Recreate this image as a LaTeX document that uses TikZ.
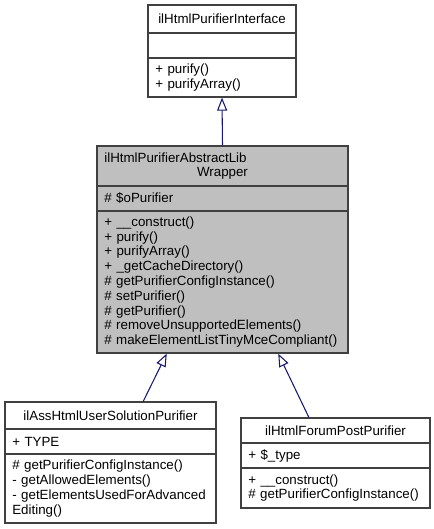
\documentclass[tikz,border=0pt]{standalone}
\usepackage{fontspec}
\setmainfont{Liberation Sans}
\usetikzlibrary{arrows.meta,calc}
\definecolor{edgeblue}{HTML}{191970}
\definecolor{boxgray}{HTML}{BFBFBF}
\definecolor{linegray}{HTML}{404040}
\begin{document}
\begin{tikzpicture}[x=0.75pt,y=-0.75pt,
    part/.style={draw=linegray, line width=0.9pt, rectangle, inner xsep=5.5pt, inner ysep=0pt,
      align=left, font=\fontsize{10}{11.1}\selectfont},
    title/.style={part, align=center},
    inherit/.style={-{Triangle[open, length=9.75pt, width=7.5pt]}, color=edgeblue, line width=0.8pt}]
    \useasboundingbox (0,0) rectangle (434,529);

    % interface
    \node[title, text width=100pt, minimum height=21pt] at (222,19) (iface) {ilHtmlPurifierInterface};
    \node[part, text width=100pt, minimum height=18.75pt] at (222,45.5) (ifaceattr) {};
    \node[part, text width=100pt, minimum height=29.25pt] at (222,77.5) (ifaceops) {+ purify()\\+ purifyArray()};

    % abstract wrapper
    \node[part, fill=boxgray, text width=177.25pt, minimum height=30pt] at (222.5,166) (wrap)
      {ilHtmlPurifierAbstractLib\\\makebox[\hsize]{Wrapper}};
    \node[part, fill=boxgray, text width=177.25pt, minimum height=18.75pt] at (222.5,198.5) (wrapattr) {\# \$oPurifier};
    \node[part, fill=boxgray, text width=177.25pt, minimum height=106.5pt] at (222.5,282) (wrapops)
      {+ \_\_construct()\\+ purify()\\+ purifyArray()\\+ \_getCacheDirectory()\\\# getPurifierConfigInstance()\\\# setPurifier()\\\# getPurifier()\\\# removeUnsupportedElements()\\\# makeElementListTinyMceCompliant()};

    % assessment purifier
    \node[title, text width=147.25pt, minimum height=20.25pt] at (110.5,415.5) (ass) {ilAssHtmlUserSolutionPurifier};
    \node[part, text width=147.25pt, minimum height=18.75pt] at (110.5,441.5) (assattr) {+ TYPE};
    \node[part, text width=147.25pt, minimum height=51.75pt] at (110.5,488.5) (assops)
      {\# getPurifierConfigInstance()\\- getAllowedElements()\\- getElementsUsedForAdvanced\\Editing()};

    % forum post purifier
    \node[title, text width=130.75pt, minimum height=18.75pt] at (335.5,430.5) (forum) {ilHtmlForumPostPurifier};
    \node[part, text width=130.75pt, minimum height=18.75pt] at (335.5,455.5) (forumattr) {+ \$\_type};
    \node[part, text width=130.75pt, minimum height=30pt] at (335.5,488) (forumops)
      {+ \_\_construct()\\\# getPurifierConfigInstance()};

    \draw[inherit] (wrap.north) to (ifaceops.south);
    \draw[inherit] ($(ass.north west)!0.654!(ass.north east)$) to ($(wrapops.south west)!0.279!(wrapops.south east)$);
    \draw[inherit] ($(forum.north west)!0.360!(forum.north east)$) to ($(wrapops.south west)!0.721!(wrapops.south east)$);
\end{tikzpicture}
\end{document}
